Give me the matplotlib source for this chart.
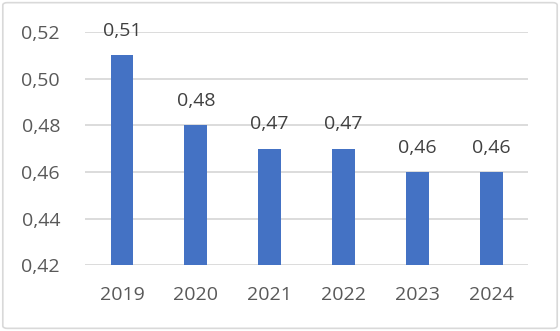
import matplotlib.pyplot as plt
from matplotlib.patches import FancyBboxPatch

years = ["2019", "2020", "2021", "2022", "2023", "2024"]
values = [0.51, 0.48, 0.47, 0.47, 0.46, 0.46]
yticks = [0.42, 0.44, 0.46, 0.48, 0.50, 0.52]

bar_color = "#4472C4"
text_color = "#595959"
grid_color = "#D9D9D9"

fig = plt.figure(figsize=(5.6, 3.31), dpi=100)
ax = fig.add_axes([0.152, 0.199, 0.791, 0.704])

x = list(range(len(years)))
ax.bar(x, values, width=0.31, color=bar_color, zorder=3)

for xi, v in zip(x, values):
    ax.text(xi, v + 0.0065, f"{v:.2f}".replace(".", ","), ha="center", va="bottom",
            fontsize=14, color="#404040", family="Open Sans", zorder=4)

ax.set_ylim(0.42, 0.52)
ax.set_xlim(-0.5, len(years) - 0.5)
ax.set_yticks(yticks)
ax.set_yticklabels([f"{t:.2f}".replace(".", ",") for t in yticks])
ax.set_xticks(x)
ax.set_xticklabels(years)
for lab in ax.get_xticklabels() + ax.get_yticklabels():
    lab.set_family("Open Sans")
    lab.set_fontsize(14)
    lab.set_color(text_color)

ax.tick_params(axis="both", length=0)
ax.tick_params(axis="x", pad=15)
ax.tick_params(axis="y", pad=18)
ax.grid(axis="y", color=grid_color, linewidth=1.3, zorder=0)
for s in ax.spines.values():
    s.set_visible(False)

border = FancyBboxPatch((0.005, 0.008), 0.99, 0.984, boxstyle="round,pad=0,rounding_size=0.008",
                        transform=fig.transFigure, fill=False, edgecolor=grid_color, linewidth=1.2)
fig.patches.append(border)

fig.savefig("out.png", dpi=100)
